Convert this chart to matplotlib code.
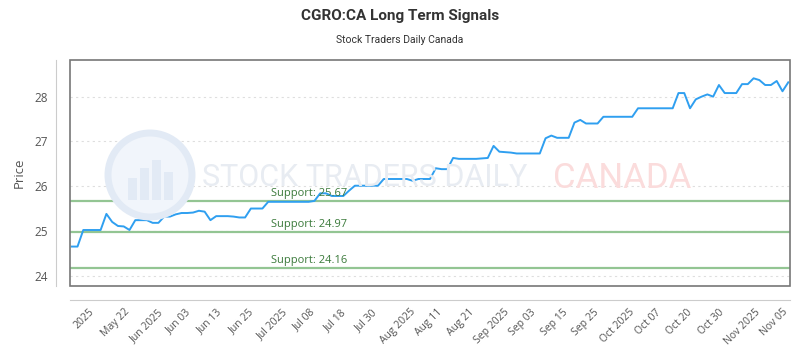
import matplotlib.pyplot as plt
import numpy as np
from matplotlib.patches import Rectangle, Ellipse

# Data
prices = [24.65, 24.65, 25.02, 25.02, 25.02, 25.02, 25.38, 25.20, 25.11, 25.10,
          25.02, 25.24, 25.24, 25.24, 25.18, 25.18, 25.32, 25.32, 25.37, 25.40,
          25.40, 25.41, 25.45, 25.43, 25.24, 25.33, 25.33, 25.33, 25.32, 25.30,
          25.30, 25.50, 25.50, 25.50, 25.65, 25.65, 25.65, 25.65, 25.65, 25.65,
          25.65, 25.65, 25.67, 25.84, 25.84, 25.78, 25.78, 25.78, 25.90, 26.01,
          26.01, 26.01, 26.01, 26.01, 26.16, 26.16, 26.16, 26.16, 26.16, 26.12,
          26.16, 26.16, 26.16, 26.40, 26.38, 26.38, 26.63, 26.61, 26.61, 26.61,
          26.61, 26.62, 26.63, 26.90, 26.77, 26.76, 26.75, 26.73, 26.73, 26.73,
          26.73, 26.73, 27.07, 27.13, 27.08, 27.08, 27.08, 27.42, 27.48, 27.40,
          27.40, 27.40, 27.55, 27.55, 27.55, 27.55, 27.55, 27.55, 27.74, 27.74,
          27.74, 27.74, 27.74, 27.74, 27.74, 28.08, 28.08, 27.74, 27.94, 28.00,
          28.05, 28.00, 28.26, 28.08, 28.08, 28.08, 28.28, 28.28, 28.41, 28.37,
          28.26, 28.26, 28.35, 28.12, 28.32]
tick_labels = ['2025', 'May 22', 'Jun 2025', 'Jun 03', 'Jun 13', 'Jun 25', 'Jul 2025',
               'Jul 08', 'Jul 18', 'Jul 30', 'Aug 2025', 'Aug 11', 'Aug 21', 'Sep 2025',
               'Sep 03', 'Sep 15', 'Sep 25', 'Oct 2025', 'Oct 07', 'Oct 20', 'Oct 30',
               'Nov 2025', 'Nov 05']
supports = [25.67, 24.97, 24.16]

plt.rcParams['font.family'] = ['Open Sans', 'DejaVu Sans']

x = np.arange(len(prices))
fig = plt.figure(figsize=(8, 3.5), dpi=100)
ax = fig.add_axes([0.0875, 0.183, 0.9, 0.647])

# watermark (faint logo + text behind the plot)
fig.patches.append(Ellipse((150 / 800, 1 - 175 / 350), 84 / 800, 84 / 350,
                           transform=fig.transFigure, facecolor='#f1f5fb',
                           edgecolor='#e2eaf5', lw=5, zorder=0))
for bx, bh in [(128, 22), (140, 32), (152, 40), (164, 28)]:
    fig.patches.append(Rectangle((bx / 800, 1 - 200 / 350), 9 / 800, bh / 350,
                                 transform=fig.transFigure, facecolor='#e2eaf5',
                                 edgecolor='none', zorder=0))
fig.text(202 / 800, 1 - 178 / 350, 'STOCK TRADERS DAILY', fontsize=22, family='Roboto',
         color='#e8ecf2', va='center', ha='left', zorder=0)
fig.text(553 / 800, 1 - 178 / 350, 'CANADA', fontsize=25, family='Roboto',
         color='#fbdcdc', va='center', ha='left', zorder=0)
ax.patch.set_alpha(0)

ax.plot(x, prices, color='#2f9ff0', lw=1.4, zorder=3)
for s in supports:
    ax.axhline(s, color='#93c593', lw=1.6, zorder=2)
    ax.text(0.279, s + 0.05, f'Support: {s:.2f}', transform=ax.get_yaxis_transform(),
            fontsize=8, color='#3b7a3b', va='bottom', ha='left', zorder=4)

ax.set_xlim(-0.3, 124.3)
ax.set_ylim(23.77, 28.83)
ax.set_yticks([24, 25, 26, 27, 28])
ax.grid(axis='y', color='#dedede', ls=(0, (2, 3)), lw=0.8)
ax.set_axisbelow(True)

ax.set_xticks(np.linspace(2.2, 121.5, len(tick_labels)))
ax.set_xticklabels(tick_labels)
ax.tick_params(axis='x', length=0, pad=5, labelsize=7.5, labelcolor='#555555',
               labelrotation=45)
ax.tick_params(axis='y', length=0, pad=6, labelsize=8.5, labelcolor='#555555')
for lab in ax.get_xticklabels():
    lab.set_ha('right')
    lab.set_va('top')
    lab.set_rotation_mode('anchor')

for side in ['top', 'right']:
    ax.spines[side].set_visible(False)
for side in ['left', 'bottom']:
    ax.spines[side].set_position(('outward', 10))
    ax.spines[side].set_color('#cccccc')
ax.add_patch(Rectangle((0, 0), 1, 1, transform=ax.transAxes, fill=False,
                       edgecolor='#777777', lw=1.2, zorder=5, clip_on=False))

ax.set_ylabel('Price', fontsize=9.5, color='#555555', labelpad=6)
fig.text(0.5, 1 - 16 / 350, 'CGRO:CA Long Term Signals', ha='center', va='center',
         fontsize=11, fontweight='bold', color='#333333', family='Roboto')
fig.text(0.5, 1 - 40 / 350, 'Stock Traders Daily Canada', ha='center', va='center',
         fontsize=7.5, color='#333333', family='Roboto')

plt.savefig('out.png', dpi=100)
